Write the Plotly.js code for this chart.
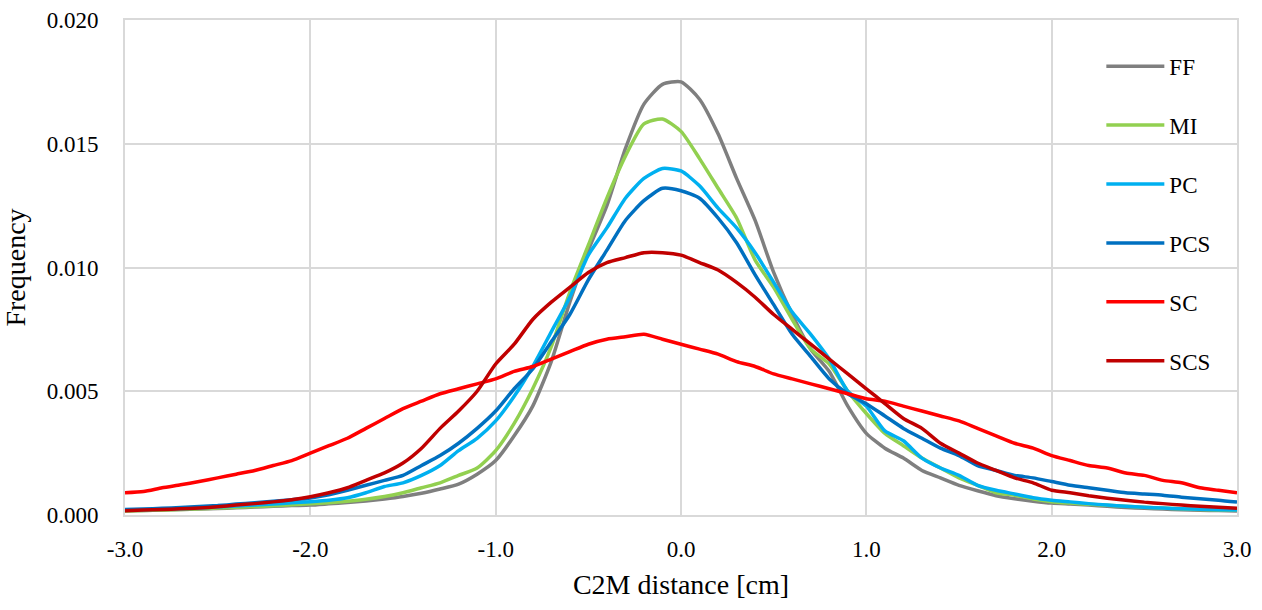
<!DOCTYPE html>
<html>
<head>
<meta charset="utf-8">
<script src="https://cdn.plot.ly/plotly-3.0.1.min.js"></script>
<style>html,body{margin:0;padding:0;background:#fff;}#chart{width:1262px;height:610px;}</style>
</head>
<body>
<div id="chart"></div>
<script>
const distance = [-3.0,-2.9,-2.8,-2.7,-2.6,-2.5,-2.4,-2.3,-2.2,-2.1,-2.0,-1.9,-1.8,-1.7,-1.6,-1.5,-1.4,-1.3,-1.2,-1.1,-1.0,-0.9,-0.8,-0.7,-0.6,-0.5,-0.4,-0.3,-0.2,-0.1,0.0,0.1,0.2,0.3,0.4,0.5,0.6,0.7,0.8,0.9,1.0,1.1,1.2,1.3,1.4,1.5,1.6,1.7,1.8,1.9,2.0,2.1,2.2,2.3,2.4,2.5,2.6,2.7,2.8,2.9,3.0];

const FF = [0.00017,0.00018,0.0002,0.00022,0.00024,0.00026,0.00029,0.00032,0.00035,0.00038,0.0004,0.00045,0.0005,0.00057,0.00065,0.00075,0.00088,0.00105,0.00125,0.00165,0.0022,0.0032,0.0044,0.0062,0.0086,0.0107,0.0125,0.0148,0.0166,0.0174,0.0175,0.0168,0.0154,0.0136,0.0119,0.0098,0.0081,0.0067,0.0058,0.0044,0.0033,0.0027,0.0023,0.0018,0.0015,0.0012,0.00098,0.00078,0.00066,0.00056,0.00048,0.00044,0.0004,0.00035,0.0003,0.00027,0.00024,0.00021,0.00019,0.00018,0.00016];

const MI = [0.00016,0.00018,0.0002,0.00022,0.00025,0.00028,0.00031,0.00034,0.00037,0.00041,0.00045,0.0005,0.00056,0.00064,0.00075,0.0009,0.0011,0.0013,0.0016,0.0019,0.0026,0.0037,0.0051,0.0068,0.009,0.0109,0.0128,0.0145,0.0158,0.016,0.0155,0.0144,0.0132,0.012,0.0103,0.0092,0.0079,0.0067,0.0061,0.005,0.0041,0.0033,0.0028,0.0023,0.0019,0.0015,0.0012,0.0009,0.0008,0.00065,0.00054,0.00048,0.00043,0.00039,0.00035,0.00031,0.00028,0.00025,0.00022,0.0002,0.00019];

const PC = [0.0002,0.00021,0.00023,0.00025,0.00028,0.00032,0.00036,0.0004,0.00044,0.00049,0.00054,0.0006,0.0007,0.0009,0.00115,0.0013,0.0016,0.002,0.0026,0.0031,0.0038,0.0048,0.006,0.0074,0.0088,0.0105,0.0116,0.0128,0.0136,0.014,0.0139,0.0133,0.0124,0.0116,0.0106,0.0094,0.0082,0.0073,0.0063,0.005,0.0044,0.0034,0.003,0.0023,0.0019,0.0016,0.0012,0.001,0.00085,0.0007,0.0006,0.00053,0.00046,0.0004,0.00035,0.00031,0.00028,0.00025,0.00023,0.00021,0.0002];

const PCS = [0.00022,0.00024,0.00027,0.0003,0.00034,0.00038,0.00044,0.0005,0.00056,0.00062,0.00069,0.00082,0.001,0.0012,0.0014,0.0016,0.002,0.0024,0.0029,0.0035,0.0042,0.0051,0.0059,0.007,0.0081,0.0095,0.0107,0.0119,0.0127,0.0132,0.0131,0.0128,0.012,0.011,0.0097,0.0085,0.0073,0.0064,0.0055,0.0049,0.0045,0.004,0.0035,0.0031,0.0027,0.0024,0.002,0.0018,0.0016,0.0015,0.00135,0.0012,0.0011,0.001,0.0009,0.00085,0.0008,0.00072,0.00066,0.0006,0.00052];

const SC = [0.0009,0.00095,0.0011,0.00122,0.00135,0.0015,0.00165,0.0018,0.002,0.0022,0.0025,0.0028,0.0031,0.0035,0.0039,0.0043,0.0046,0.0049,0.0051,0.0053,0.0055,0.0058,0.006,0.0063,0.0066,0.0069,0.0071,0.0072,0.0073,0.0071,0.0069,0.0067,0.0065,0.0062,0.006,0.0057,0.0055,0.0053,0.0051,0.0049,0.0047,0.0046,0.0044,0.0042,0.004,0.0038,0.0035,0.0032,0.0029,0.0027,0.0024,0.0022,0.002,0.0019,0.0017,0.0016,0.0014,0.0013,0.0011,0.001,0.0009];

const SCS = [0.00017,0.0002,0.00022,0.00025,0.00028,0.00033,0.0004,0.00046,0.00053,0.00062,0.00074,0.0009,0.0011,0.0014,0.0017,0.0021,0.0027,0.0035,0.0042,0.005,0.0061,0.0069,0.0079,0.0086,0.0092,0.0098,0.0102,0.0104,0.0106,0.0106,0.0105,0.0102,0.0099,0.0094,0.0088,0.0081,0.0075,0.0069,0.0063,0.0057,0.0051,0.0045,0.0039,0.0035,0.0029,0.0025,0.0021,0.0018,0.0015,0.0013,0.001,0.0009,0.00078,0.00068,0.0006,0.00052,0.00046,0.0004,0.00035,0.00031,0.00027];

const xTickVals = [-3, -2, -1, 0, 1, 2, 3];
const xTickText = ["-3.0", "-2.0", "-1.0", "0.0", "1.0", "2.0", "3.0"];
const yTickVals = [0, 0.005, 0.01, 0.015, 0.02];
const yTickText = ["0.000", "0.005", "0.010", "0.015", "0.020"];

const seriesNames = ["FF","MI","PC","PCS","SC","SCS"];
const seriesData = [FF, MI, PC, PCS, SC, SCS];
const seriesColors = ["#7F7F7F","#92D050","#00B0F0","#0070C0","#FF0000","#C00000"];

const font = "Liberation Serif";
const traces = seriesNames.map((n, i) => ({
  x: distance, y: seriesData[i], name: n, type: "scatter", mode: "lines",
  legendgroup: n,
  line: {color: seriesColors[i], width: 3.5, shape: "spline", smoothing: 0.6}
}));

const layout = {
  width: 1262, height: 610,
  margin: {l: 125, r: 25, t: 20, b: 95},
  paper_bgcolor: "#fff", plot_bgcolor: "#fff",
  font: {family: font, color: "#000", size: 23},
  showlegend: true,
  legend: {x: 0.878, y: 0.95, xanchor: "left", yanchor: "top",
    bgcolor: "rgba(0,0,0,0)", font: {family: font, size: 23, color: "#000"},
    tracegroupgap: 26, itemwidth: 58},
  xaxis: {range: [-3, 3], tickmode: "array", tickvals: xTickVals, ticktext: xTickText,
    showgrid: true, gridcolor: "#D9D9D9", gridwidth: 2, zeroline: false,
    showline: true, linecolor: "#D9D9D9", linewidth: 2, mirror: true,
    ticks: "", ticklabelstandoff: 12,
    tickfont: {family: font, size: 23, color: "#000"},
    title: {text: "C2M distance [cm]", font: {family: font, size: 28, color: "#000"}, standoff: 14}},
  yaxis: {range: [0, 0.02], tickmode: "array", tickvals: yTickVals, ticktext: yTickText,
    showgrid: true, gridcolor: "#D9D9D9", gridwidth: 2, zeroline: false,
    showline: true, linecolor: "#D9D9D9", linewidth: 2, mirror: true,
    ticks: "", ticklabelstandoff: 20,
    tickfont: {family: font, size: 23, color: "#000"},
    title: {text: "Frequency", font: {family: font, size: 28, color: "#000"}, standoff: 14}}
};

Plotly.newPlot("chart", traces, layout, {displayModeBar: false, staticPlot: true});
</script>
</body>
</html>
